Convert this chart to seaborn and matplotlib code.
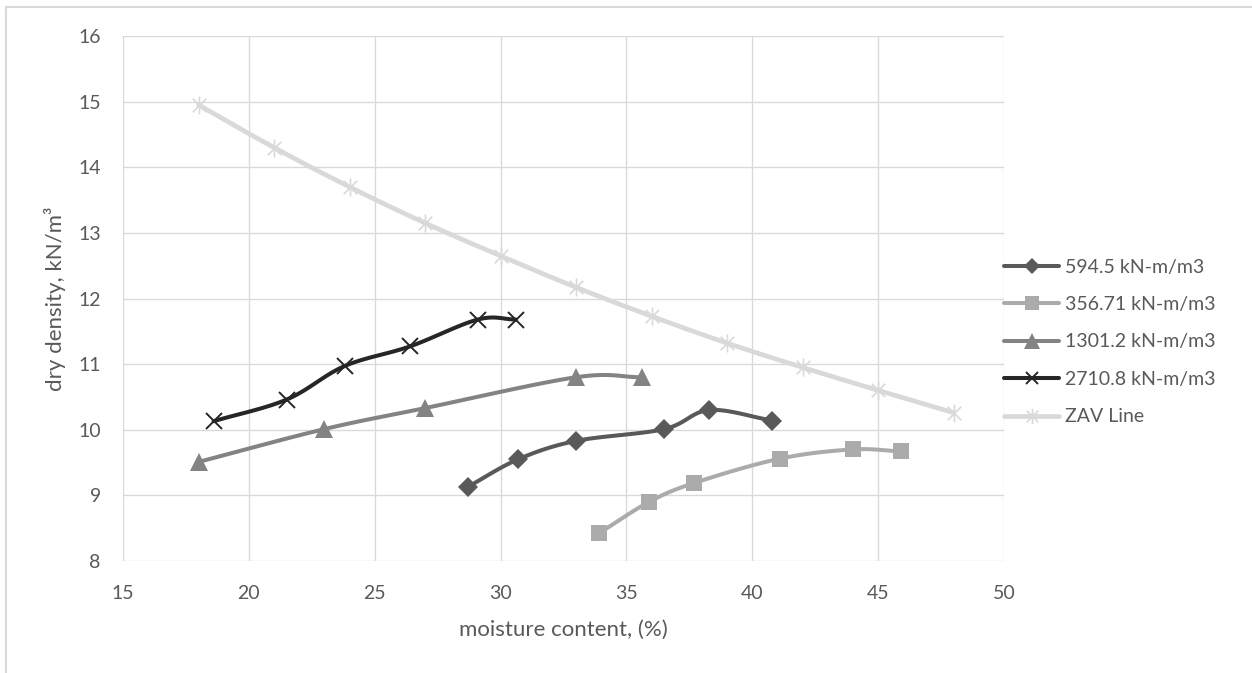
import numpy as np
import pandas as pd
import matplotlib
matplotlib.use("Agg")
import matplotlib.pyplot as plt
from matplotlib.lines import Line2D
from matplotlib.path import Path
import seaborn as sns

# Compaction test results: moisture content (%) vs dry density (kN/m^3)
series_names = ["594.5 kN-m/m3", "356.71 kN-m/m3", "1301.2 kN-m/m3",
                "2710.8 kN-m/m3", "ZAV Line"]

w_5945 = [28.7, 30.7, 33.0, 36.5, 38.3, 40.8]
d_5945 = [9.13, 9.55, 9.83, 10.01, 10.30, 10.14]

w_35671 = [33.9, 35.9, 37.7, 41.1, 44.0, 45.9]
d_35671 = [8.42, 8.90, 9.19, 9.56, 9.70, 9.67]

w_13012 = [18.0, 23.0, 27.0, 33.0, 35.6]
d_13012 = [9.51, 10.01, 10.33, 10.80, 10.80]

w_27108 = [18.6, 21.5, 23.8, 26.4, 29.1, 30.6]
d_27108 = [10.13, 10.46, 10.97, 11.27, 11.68, 11.68]

w_zav = [18, 21, 24, 27, 30, 33, 36, 39, 42, 45, 48]
d_zav = [14.95, 14.30, 13.70, 13.15, 12.65, 12.17, 11.73, 11.32, 10.95, 10.60, 10.26]

x_ticks = [15, 20, 25, 30, 35, 40, 45, 50]
y_ticks = [8, 9, 10, 11, 12, 13, 14, 15, 16]

# star marker: an "x" crossed by a vertical stroke
star = Path([(-0.75, -0.75), (0.75, 0.75), (-0.75, 0.75), (0.75, -0.75),
             (0, -1), (0, 1)],
            [Path.MOVETO, Path.LINETO, Path.MOVETO, Path.LINETO,
             Path.MOVETO, Path.LINETO])

colors = ["#595959", "#ababab", "#838383", "#262626", "#d9d9d9"]
markers = ["D", "s", "^", "x", star]
msizes = [10, 12, 13, 11, 13]
medge = [0, 0, 0, 1.4, 1.2]
widths = [2.9, 2.9, 2.9, 2.9, 3.4]

data = [(w_5945, d_5945), (w_35671, d_35671), (w_13012, d_13012),
        (w_27108, d_27108), (w_zav, d_zav)]


def smooth(x, y, n=24, tension=0.5):
    """Cardinal spline through the points (smoothed line style)."""
    x = np.asarray(x, float)
    y = np.asarray(y, float)
    px = np.concatenate([[2 * x[0] - x[1]], x, [2 * x[-1] - x[-2]]])
    py = np.concatenate([[2 * y[0] - y[1]], y, [2 * y[-1] - y[-2]]])
    xs, ys = [], []
    t = np.linspace(0, 1, n)
    for i in range(1, len(px) - 2):
        p0, p1, p2, p3 = (np.array([px[j], py[j]]) for j in range(i - 1, i + 3))
        m1 = tension * (p2 - p0)
        m2 = tension * (p3 - p1)
        h00 = 2 * t**3 - 3 * t**2 + 1
        h10 = t**3 - 2 * t**2 + t
        h01 = -2 * t**3 + 3 * t**2
        h11 = t**3 - t**2
        pts = (np.outer(h00, p1) + np.outer(h10, m1) + np.outer(h01, p2)
               + np.outer(h11, m2))
        xs.extend(pts[:, 0])
        ys.extend(pts[:, 1])
    return np.array(xs), np.array(ys)


sns.set_theme(style="white")
plt.rcParams["font.family"] = ["Lato", "DejaVu Sans"]

W, H = 1252, 673
fig = plt.figure(figsize=(W / 100, H / 100), dpi=100)
ax_left, ax_right, ax_top, ax_bottom = 123, 1004, 36, 561
ax = fig.add_axes([ax_left / W, 1 - ax_bottom / H,
                   (ax_right - ax_left) / W, (ax_bottom - ax_top) / H])

grid_c = "#d9d9d9"
text_c = "#595959"

handles = []
for name, (w, d), c, m, ms, mew, lw in zip(series_names, data, colors, markers,
                                            msizes, medge, widths):
    sx, sy = smooth(w, d)
    curve = pd.DataFrame({"w": sx, "d": sy})
    sns.lineplot(data=curve, x="w", y="d", sort=False, color=c, lw=lw,
                 ax=ax, zorder=3)
    pts = pd.DataFrame({"w": w, "d": d})
    ax.plot(pts["w"], pts["d"], ls="none", marker=m, ms=ms, color=c,
            markeredgecolor=c, mew=mew, zorder=4)
    handles.append(Line2D([0], [0], color=c, lw=lw, marker=m,
                          ms=ms * 0.85, mew=mew, markeredgecolor=c,
                          label=name))

ax.set_xlim(15, 50)
ax.set_ylim(8, 16)
ax.set_xticks(x_ticks)
ax.set_yticks(y_ticks)
ax.grid(True, color=grid_c, lw=0.95)
for s in ax.spines.values():
    s.set_visible(False)
ax.tick_params(axis="both", length=0, labelsize=14, colors=text_c)
ax.tick_params(axis="x", pad=17)
ax.tick_params(axis="y", pad=16)
ax.set_xlabel("moisture content, (%)", fontsize=16, color=text_c)
ax.set_ylabel("dry density, kN/m³", fontsize=16, color=text_c)
ax.xaxis.label.set_va("center")
ax.yaxis.label.set_va("center")
ax.xaxis.set_label_coords(0.5, -69 / (ax_bottom - ax_top))
ax.yaxis.set_label_coords((55 - ax_left) / (ax_right - ax_left), 0.5)

leg = fig.legend(handles=handles, loc="center left",
                 bbox_to_anchor=(1004 / W, 1 - 342 / H), frameon=False,
                 fontsize=14, handlelength=2.85, handletextpad=0.28,
                 labelspacing=1.05, borderpad=0, borderaxespad=0)
for t in leg.get_texts():
    t.set_color(text_c)

# outer chart frame
fig.add_artist(Line2D([6 / W, 1.0], [1 - 7 / H, 1 - 7 / H],
                      color=grid_c, lw=1.5, transform=fig.transFigure))
fig.add_artist(Line2D([6 / W, 6 / W], [0, 1 - 7 / H],
                      color=grid_c, lw=1.5, transform=fig.transFigure))

fig.savefig("out.png", dpi=100)
